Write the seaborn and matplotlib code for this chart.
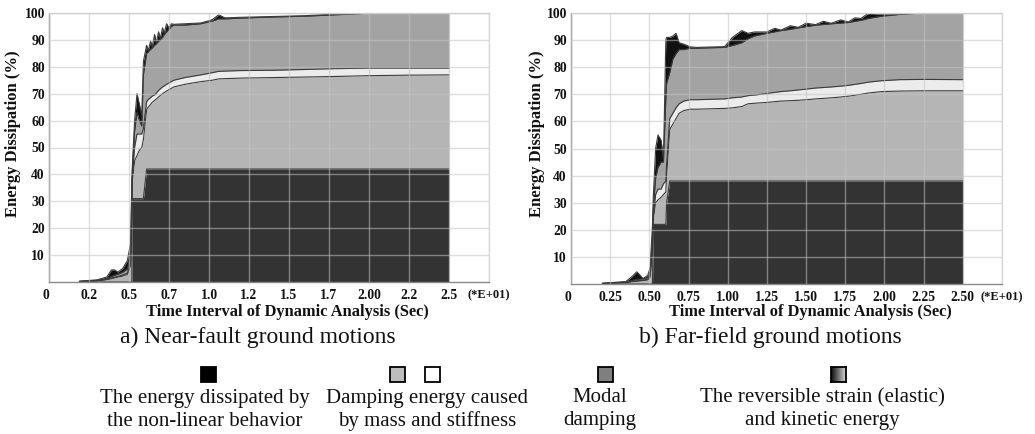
import numpy as np
import pandas as pd
import matplotlib
matplotlib.use("Agg")
import matplotlib.pyplot as plt
from matplotlib.patches import Rectangle
import seaborn as sns

# ---------------- data (seconds, % of energy) ----------------
# a) Near-fault
time_a = [1.9, 3.0, 3.6, 3.9, 4.1, 4.3, 4.6, 4.9, 5.1, 5.18, 5.2, 5.35, 5.5, 5.65, 5.8,
          5.9, 6.1, 6.2, 6.35, 6.45, 6.6, 6.7, 6.85, 6.95, 7.1, 7.2, 7.35, 7.5, 7.65, 7.8,
          8.5, 9.5, 10.2, 10.6, 11.0, 12.0, 14.0, 16.0, 17.8, 20.0, 22.5, 25.0]
nonlinear_a = [0, 0, 0, 0, 0, 0, 0, 0, 0, 0, 31, 31, 31, 31, 31,
               31, 42, 42, 42, 42, 42, 42, 42, 42, 42, 42, 42, 42, 42, 42,
               42, 42, 42, 42, 42, 42, 42, 42, 42, 42, 42, 42]
mass_a = [0.2, 0.4, 0.8, 1.2, 1.5, 1.8, 2.2, 2.8, 6, 25, 6, 14, 16, 18, 19,
          22, 22, 23, 24, 24.8, 25.5, 26, 26.8, 27.3, 28, 28.4, 29, 29.5, 30, 30.5,
          31.5, 32.5, 33, 33.5, 33.6, 33.8, 34, 34.2, 34.4, 34.7, 34.9, 35]
stiff_a = [0, 0.1, 0.2, 0.3, 0.3, 0.3, 0.4, 0.5, 1.5, 3, 1, 5, 8, 6, 5,
           4, 3, 2.8, 2.5, 2.3, 2, 2.2, 2.4, 2.5, 2.5, 2.5, 2.5, 2.5, 2.5, 2.5,
           2.5, 2.5, 2.8, 2.8, 2.8, 2.8, 2.7, 2.8, 2.9, 2.8, 2.6, 2.5]
modal_a = [0, 0.1, 0.3, 0.5, 0.7, 0.8, 1.0, 1.5, 3, 7, 2, 6, 8, 5, 3,
           20, 18, 17.7, 18, 17.9, 18.5, 18.3, 18.3, 18.2, 18.5, 19.1, 19.5, 20, 20.5, 20.5,
           19.5, 19, 19.2, 19.5, 19.4, 19.5, 19.8, 19.8, 20.0, 20.4, 20.5, 20.5]
kinetic_a = [0.1, 0.2, 0.5, 2.5, 2.0, 0.8, 1.4, 3.2, 4, 3, 2, 4, 7, 6, 4,
             5, 3, 0.5, 3, 0.5, 4, 0.5, 3.5, 0.5, 3.5, 0.5, 3, 0.5, 1, 0.3,
             0.5, 0.3, 0.5, 1.5, 0.4, 0.3, 0.2, 0.2, 0.3, 0.1, 0, 0]

# b) Far-field
time_b = [2.0, 3.5, 3.9, 4.2, 4.6, 4.9, 5.05, 5.2, 5.25, 5.4, 5.55, 5.75, 5.9, 6.05,
          6.1, 6.3, 6.5, 6.7, 6.9, 7.2, 7.6, 8.0, 9.8, 10.3, 10.9, 11.3, 11.7, 12.5,
          13.0, 13.4, 14.0, 14.5, 15.0, 15.6, 16.1, 16.6, 17.2, 17.7, 18.1, 18.5,
          19.0, 19.8, 21.0, 22.5, 25.0]
nonlinear_b = [0, 0, 0, 0, 0, 0, 0, 0, 22, 22, 22, 22, 22, 22,
               30, 38, 38, 38, 38, 38, 38, 38, 38, 38, 38, 38, 38, 38,
               38, 38, 38, 38, 38, 38, 38, 38, 38, 38, 38, 38,
               38, 38, 38, 38, 38]
mass_b = [0.2, 0.5, 0.8, 1.0, 1.2, 1.5, 2.5, 12, 2, 8, 9, 10, 11, 12,
          10, 19, 21, 23, 25, 26, 26.5, 26.5, 26.8, 27, 27.5, 28.5, 28.7, 29,
          29.3, 29.5, 29.65, 29.8, 30.0, 30.3, 30.5, 30.7, 31.0, 31.3, 31.65, 32,
          32.5, 33, 33.2, 33.3, 33.3]
stiff_b = [0, 0.1, 0.2, 0.2, 0.2, 0.3, 0.5, 2, 1, 3, 4, 3, 4, 4,
           4, 4, 4, 4, 3.5, 3.5, 3.5, 3.5, 3.5, 3.7, 3.5, 3.0, 3.0, 3.3,
           3.4, 3.5, 3.65, 3.8, 3.9, 4.0, 4.0, 4.0, 4.0, 4.0, 4.0, 4.0,
           4.0, 4.0, 4.2, 4.2, 4.1]
modal_b = [0, 0.1, 0.3, 0.5, 0.5, 0.6, 1.0, 4, 3, 6, 8, 10, 8, 30,
           30, 17, 20, 20, 20, 19, 19, 19, 19, 19.3, 20, 21, 21.8, 22.2,
           22.35, 22.5, 22.7, 22.9, 23.05, 23.2, 23.25, 23.3, 23.25, 23.2, 23.25, 23.3,
           23.5, 23.8, 24.1, 24.5, 24.6]
kinetic_b = [0.1, 0.2, 1.5, 2.8, 0.1, 0.8, 2, 4, 4, 11, 12, 8, 1, 22,
             17, 13, 8.5, 7.5, 2.5, 2, 0.5, 0.3, 0.3, 3, 4.5, 2, 1.5, 0.5,
             1.3, 0.2, 1.3, 0.2, 1.3, 0.2, 1.2, 0.2, 1.2, 0.2, 1.3, 0.7,
             2, 0.7, 0.3, 0, 0]

xticks_a = ["0", "0.2", "0.5", "0.7", "1.0", "1.2", "1.5", "1.7", "2.00", "2.2", "2.5", "(*E+01)"]
xticks_b = ["0", "0.25", "0.50", "0.75", "1.00", "1.25", "1.50", "1.75", "2.00", "2.25", "2.50", "(*E+01)"]
yticks = [10, 20, 30, 40, 50, 60, 70, 80, 90, 100]

captions = ["a) Near-fault ground motions", "b) Far-field ground motions"]
xlabel = "Time Interval of Dynamic Analysis (Sec)"
ylabel = "Energy Dissipation (%)"
legend_labels = ["The energy dissipated by\nthe non-linear behavior",
                 "Damping energy caused\nby mass and stiffness",
                 "Modal\ndamping",
                 "The reversible strain (elastic)\nand kinetic energy"]

layer_colors = ["#333333", "#b5b5b5", "#ececec", "#a3a3a3", "#111111"]

# ---------------- style ----------------
sns.set_theme(style="white")
plt.rcParams["font.family"] = ["Liberation Serif", "DejaVu Serif"]

fig = plt.figure(figsize=(10.35, 4.34), dpi=100)
W, H = 1035, 434

def fx(px):
    return px / W

def fy(py):
    return 1 - py / H

ax_a = fig.add_axes([fx(49), fy(282), fx(489) - fx(49), fy(13) - fy(282)])
ax_b = fig.add_axes([fx(571), fy(284), fx(1002) - fx(571), fy(13) - fy(284)])

panels = [
    (ax_a, time_a, [nonlinear_a, mass_a, stiff_a, modal_a, kinetic_a], xticks_a),
    (ax_b, time_b, [nonlinear_b, mass_b, stiff_b, modal_b, kinetic_b], xticks_b),
]

for ax, t, layers, xt in panels:
    ax.stackplot(t, *layers, colors=layer_colors, linewidth=0)
    cum = np.cumsum(np.array(layers, dtype=float), axis=0)
    df = pd.DataFrame({"t": t})
    for i in range(cum.shape[0]):
        df["b"] = cum[i]
        sns.lineplot(data=df, x="t", y="b", ax=ax, color="#3a3a3a", linewidth=0.8,
                     estimator=None, sort=False)
    ax.set_xlim(0, 27.5)
    ax.set_ylim(0, 100)
    ax.set_xticks(np.arange(0, 27.6, 2.5))
    ax.set_xticklabels(xt)
    ax.set_yticks(yticks)
    ax.set_yticklabels([str(v) for v in yticks])
    ax.set_xlabel("")
    ax.set_ylabel("")
    ax.tick_params(axis="both", length=0, labelsize=9.8, pad=3)
    ax.tick_params(axis="x", pad=5)
    for lab in ax.get_xticklabels() + ax.get_yticklabels():
        lab.set_fontweight("bold")
        lab.set_color("#111111")
    ax.get_xticklabels()[0].set_ha("right")
    ax.get_xticklabels()[-1].set_fontsize(9)
    ax.set_axisbelow(False)
    ax.grid(True, color="#c4c4c4", alpha=0.55, linewidth=1.0)
    for side in ["top", "right"]:
        ax.spines[side].set_color("#d8d8d8")
    for side in ["left", "bottom"]:
        ax.spines[side].set_color("#8a8a8a")
    for s in ax.spines.values():
        s.set_linewidth(1.0)

# axis titles & captions
fig.text(fx(13), fy(134), ylabel, rotation=90, ha="center", va="center",
         fontsize=12, fontweight="bold", color="#111111")
fig.text(fx(537), fy(134), ylabel, rotation=90, ha="center", va="center",
         fontsize=12, fontweight="bold", color="#111111")
fig.text(fx(287), fy(312), xlabel, ha="center", va="center", fontsize=11.8,
         fontweight="bold", color="#111111")
fig.text(fx(810), fy(312), xlabel, ha="center", va="center", fontsize=11.8,
         fontweight="bold", color="#111111")
fig.text(fx(258), fy(337), captions[0], ha="center", va="center", fontsize=17, color="#111111")
fig.text(fx(770), fy(337), captions[1], ha="center", va="center", fontsize=17, color="#111111")

# legend
sq = 15
def square(cx, cy, color):
    fig.add_artist(Rectangle((fx(cx - sq / 2), fy(cy + sq / 2)), sq / W, sq / H,
                             transform=fig.transFigure, facecolor=color,
                             edgecolor="black", linewidth=1.3))

sq_y = 374.5
square(208, sq_y, "#000000")
square(397, sq_y, "#bdbdbd")
square(432, sq_y, "#ffffff")
square(605, sq_y, "#7f7f7f")
gax = fig.add_axes([fx(838 - sq / 2), fy(sq_y + sq / 2), sq / W, sq / H])
gax.imshow(np.linspace(0, 1, 64)[None, :], cmap="gray", vmin=-0.05, vmax=1.2,
           aspect="auto", extent=[0, 1, 0, 1])
gax.set_xticks([])
gax.set_yticks([])
for s in gax.spines.values():
    s.set_color("black")
    s.set_linewidth(1.3)

legend_x = [205, 427, 600, 822]
for lx, lab in zip(legend_x, legend_labels):
    l1, l2 = lab.split("\n")
    fig.text(fx(lx), fy(398), l1, ha="center", va="center", fontsize=15, color="#111111")
    fig.text(fx(lx), fy(421), l2, ha="center", va="center", fontsize=15, color="#111111")

fig.savefig("out.png", dpi=100)
